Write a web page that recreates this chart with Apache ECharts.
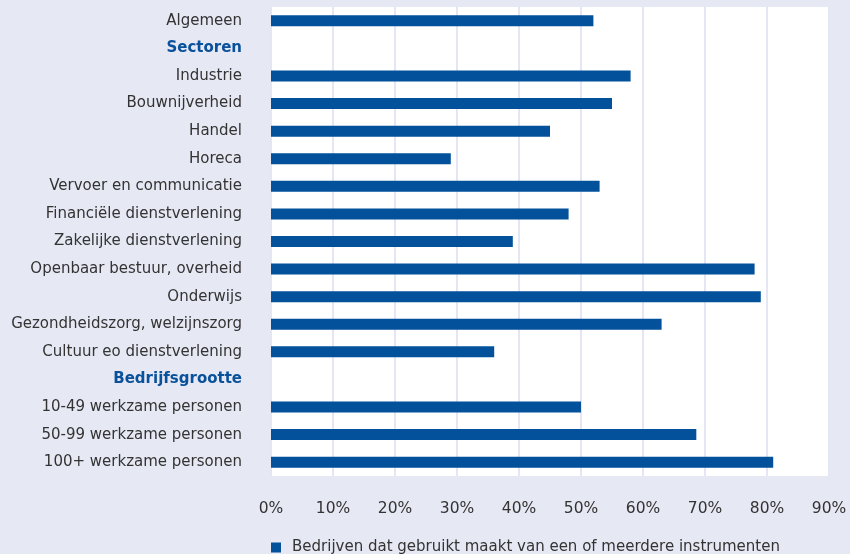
<!DOCTYPE html>
<html>
<head>
<meta charset="utf-8">
<script src="https://cdn.jsdelivr.net/npm/echarts@6/dist/echarts.min.js"></script>
<style>
html,body{margin:0;padding:0;background:#e6e8f4;}
#chart{width:850px;height:554px;}
</style>
</head>
<body>
<div id="chart"></div>
<script>
const categories = [
  "Algemeen",
  "Sectoren",
  "Industrie",
  "Bouwnijverheid",
  "Handel",
  "Horeca",
  "Vervoer en communicatie",
  "Financiële dienstverlening",
  "Zakelijke dienstverlening",
  "Openbaar bestuur, overheid",
  "Onderwijs",
  "Gezondheidszorg, welzijnszorg",
  "Cultuur eo dienstverlening",
  "Bedrijfsgrootte",
  "10-49 werkzame personen",
  "50-99 werkzame personen",
  "100+ werkzame personen"
];
const headers = ["Sectoren", "Bedrijfsgrootte"];
const seriesName = "Bedrijven dat gebruikt maakt van een of meerdere instrumenten";
const values = [52, null, 58, 55, 45, 29, 53, 48, 39, 78, 79, 63, 36, null, 50, 68.6, 81];
const xTicks = [0, 10, 20, 30, 40, 50, 60, 70, 80, 90];

const FONT = "DejaVu Sans";
const chart = echarts.init(document.getElementById('chart'), null, {renderer: 'canvas'});
chart.setOption({
  backgroundColor: '#e6e8f4',
  animation: false,
  textStyle: {fontFamily: FONT},
  grid: {
    left: 271, right: 21, top: 7, bottom: 78,
    show: true, backgroundColor: '#ffffff', borderWidth: 0
  },
  legend: {
    top: 535, left: 266,
    itemWidth: 10, itemHeight: 10, itemGap: 10,
    icon: 'rect',
    textStyle: {fontFamily: FONT, fontSize: 15, color: '#333333', padding: [0, 0, 0, 6]},
    data: [seriesName]
  },
  xAxis: {
    type: 'value',
    min: xTicks[0], max: xTicks[xTicks.length - 1], interval: 10,
    axisLine: {show: false},
    axisTick: {show: false},
    splitLine: {show: true, lineStyle: {color: '#e4e7f3', width: 2}},
    axisLabel: {
      margin: 25,
      fontFamily: FONT, fontSize: 15.5, color: '#333333',
      formatter: v => v + '%'
    }
  },
  yAxis: {
    type: 'category',
    inverse: true,
    data: categories,
    axisLine: {show: false},
    axisTick: {show: false},
    axisLabel: {
      margin: 29,
      fontFamily: FONT, fontSize: 15, color: '#333333',
      formatter: v => headers.includes(v) ? '{h|' + v + '}' : v,
      rich: {
        h: {fontFamily: FONT, fontSize: 15, fontWeight: 'bold', color: '#0a519b'}
      }
    }
  },
  series: [{
    name: seriesName,
    type: 'bar',
    data: values,
    barWidth: 11,
    itemStyle: {color: '#03519b'}
  }]
});
</script>
</body>
</html>
